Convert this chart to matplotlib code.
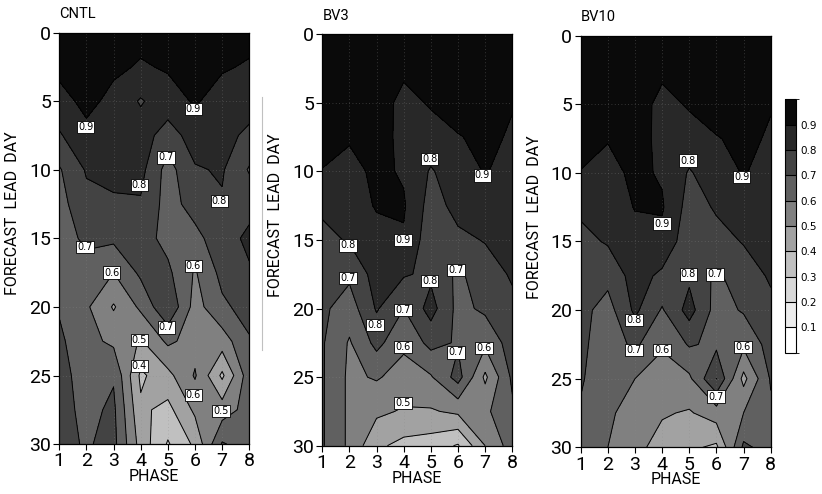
import numpy as np
import matplotlib
matplotlib.use('Agg')
import matplotlib.pyplot as plt
from matplotlib.colors import ListedColormap, BoundaryNorm
from matplotlib.lines import Line2D

# ---------------- data ----------------
phases = [1, 2, 3, 4, 5, 6, 7, 8]
lead_days = [0, 2.5, 5, 7.5, 10, 12.5, 15, 17.5, 20, 22.5, 25, 27.5, 30]

# rows = lead day, columns = phase 1..8
cntl = [
    [0.97, 0.98, 0.96, 0.93, 0.95, 0.98, 0.96, 0.93],
    [0.93, 0.95, 0.92, 0.89, 0.91, 0.94, 0.91, 0.89],
    [0.86, 0.93, 0.87, 0.79, 0.86, 0.91, 0.86, 0.84],
    [0.79, 0.87, 0.85, 0.85, 0.75, 0.85, 0.83, 0.78],
    [0.69, 0.81, 0.82, 0.83, 0.66, 0.79, 0.81, 0.69],
    [0.665, 0.77, 0.79, 0.79, 0.66, 0.74, 0.79, 0.77],
    [0.655, 0.72, 0.72, 0.74, 0.67, 0.67, 0.76, 0.82],
    [0.665, 0.66, 0.60, 0.72, 0.72, 0.59, 0.73, 0.79],
    [0.69, 0.615, 0.49, 0.62, 0.79, 0.56, 0.68, 0.74],
    [0.72, 0.63, 0.58, 0.49, 0.62, 0.56, 0.55, 0.69],
    [0.74, 0.65, 0.69, 0.38, 0.47, 0.61, 0.38, 0.66],
    [0.74, 0.67, 0.72, 0.42, 0.37, 0.52, 0.55, 0.64],
    [0.73, 0.69, 0.73, 0.46, 0.29, 0.42, 0.71, 0.65],
]

bv3 = [
    [0.97, 0.97, 0.97, 0.97, 0.97, 0.98, 0.97, 0.97],
    [0.96, 0.95, 0.96, 0.92, 0.95, 0.96, 0.96, 0.93],
    [0.94, 0.93, 0.95, 0.87, 0.91, 0.94, 0.94, 0.905],
    [0.92, 0.91, 0.93, 0.88, 0.86, 0.895, 0.92, 0.89],
    [0.898, 0.87, 0.92, 0.89, 0.79, 0.86, 0.905, 0.87],
    [0.82, 0.84, 0.91, 0.91, 0.76, 0.83, 0.86, 0.85],
    [0.77, 0.81, 0.86, 0.89, 0.74, 0.78, 0.805, 0.83],
    [0.75, 0.72, 0.84, 0.81, 0.78, 0.68, 0.76, 0.81],
    [0.72, 0.65, 0.81, 0.70, 0.84, 0.67, 0.72, 0.78],
    [0.71, 0.59, 0.73, 0.62, 0.73, 0.69, 0.62, 0.75],
    [0.71, 0.58, 0.61, 0.56, 0.59, 0.74, 0.48, 0.72],
    [0.71, 0.58, 0.52, 0.49, 0.49, 0.52, 0.58, 0.68],
    [0.71, 0.58, 0.42, 0.37, 0.35, 0.29, 0.50, 0.65],
]

bv10 = [
    [0.97, 0.97, 0.97, 0.97, 0.97, 0.98, 0.97, 0.97],
    [0.96, 0.95, 0.96, 0.92, 0.95, 0.96, 0.96, 0.93],
    [0.94, 0.93, 0.95, 0.87, 0.91, 0.94, 0.94, 0.905],
    [0.92, 0.905, 0.93, 0.88, 0.86, 0.895, 0.92, 0.89],
    [0.898, 0.87, 0.92, 0.89, 0.79, 0.86, 0.905, 0.87],
    [0.82, 0.84, 0.905, 0.91, 0.76, 0.81, 0.86, 0.85],
    [0.77, 0.81, 0.86, 0.87, 0.74, 0.77, 0.805, 0.83],
    [0.74, 0.73, 0.84, 0.78, 0.78, 0.68, 0.76, 0.81],
    [0.73, 0.66, 0.82, 0.69, 0.84, 0.66, 0.71, 0.78],
    [0.72, 0.65, 0.72, 0.61, 0.71, 0.68, 0.62, 0.74],
    [0.71, 0.64, 0.60, 0.56, 0.58, 0.801, 0.47, 0.71],
    [0.69, 0.62, 0.55, 0.51, 0.49, 0.55, 0.60, 0.68],
    [0.67, 0.60, 0.53, 0.46, 0.42, 0.38, 0.72, 0.66],
]

fill_levels = [0.0, 0.1, 0.2, 0.3, 0.4, 0.5, 0.6, 0.7, 0.8, 0.9, 1.0]
line_levels = [0.1, 0.2, 0.3, 0.4, 0.5, 0.6, 0.7, 0.8, 0.9]
band_colors = ['#ffffff', '#ececec', '#d8d8d8', '#c0c0c0', '#a2a2a2',
               '#808080', '#606060', '#434343', '#282828', '#0a0a0a']

# contour labels: (level, phase, day)
cntl_labels = [(0.9, 1.97, 6.9), (0.9, 5.94, 5.6), (0.8, 3.95, 11.1), (0.8, 6.9, 12.3),
               (0.7, 4.93, 9.1), (0.7, 1.95, 15.65), (0.7, 4.95, 21.5), (0.6, 2.93, 17.5),
               (0.6, 5.94, 17.0), (0.6, 5.94, 26.4), (0.5, 3.95, 22.4), (0.5, 6.95, 27.6),
               (0.4, 3.95, 24.3)]
bv3_labels = [(0.8, 4.95, 9.1), (0.9, 6.9, 10.3), (0.8, 1.95, 15.4), (0.9, 3.97, 15.0),
              (0.7, 1.95, 17.8), (0.8, 4.95, 18.0), (0.7, 5.93, 17.2), (0.7, 3.97, 20.1),
              (0.8, 2.95, 21.2), (0.6, 3.98, 22.8), (0.7, 5.93, 23.2), (0.6, 6.95, 22.9),
              (0.5, 3.97, 26.9)]
bv10_labels = [(0.8, 4.96, 9.1), (0.9, 6.93, 10.3), (0.9, 3.99, 13.7), (0.8, 4.97, 17.4),
               (0.7, 5.95, 17.4), (0.8, 2.97, 20.7), (0.7, 2.97, 22.9), (0.6, 3.99, 22.9),
               (0.6, 6.97, 22.7), (0.7, 5.99, 26.3)]

panels = [('CNTL', cntl, cntl_labels, [59.3, 32.5]),
          ('BV3', bv3, bv3_labels, [322.3, 34.1]),
          ('BV10', bv10, bv10_labels, [580.7, 35.7])]

plt.rcParams['font.family'] = ['Roboto', 'DejaVu Sans']

# ---------------- figure ----------------
W, H = 822, 494
fig = plt.figure(figsize=(W / 100, H / 100), dpi=100)
cmap = ListedColormap(band_colors)
norm = BoundaryNorm(fill_levels, cmap.N)
P, D = np.meshgrid(phases, lead_days)

box = dict(boxstyle='square,pad=0.12', facecolor='white', edgecolor='black', linewidth=0.6)
cf = None
for title, z, labels, (lx, ty) in panels:
    ax = fig.add_axes([lx / W, 1 - (ty + 411.6) / H, 190 / W, 411.6 / H])
    z = np.array(z)
    cf = ax.contourf(P, D, z, levels=fill_levels, cmap=cmap, norm=norm)
    ax.contour(P, D, z, levels=line_levels, colors='black', linewidths=0.7)
    for lev, x, y in labels:
        ax.text(x, y, '%.1f' % lev, ha='center', va='center', fontsize=7,
                family='DejaVu Sans', bbox=box, zorder=5)
    ax.set_xlim(1, 8)
    ax.set_ylim(30, 0)
    ax.set_xticks(phases)
    ax.set_yticks([0, 5, 10, 15, 20, 25, 30])
    ax.grid(True, color='#8a8a8a', linestyle=(0, (1, 3)), linewidth=0.6, alpha=0.45)
    ax.tick_params(direction='out', length=4, width=0.8, labelsize=14, pad=2)
    for s in ax.spines.values():
        s.set_linewidth(0.9)
    ax.set_xlabel('PHASE', fontsize=11.5, labelpad=-1)
    ax.set_ylabel('FORECAST  LEAD  DAY', fontsize=11.5)
    ax.yaxis.set_label_coords(-0.205, 0.56)
    ax.text(0.0, 1.045, title, transform=ax.transAxes, fontsize=10.5,
            ha='left', va='center')

cax = fig.add_axes([785 / W, 1 - 352.7 / H, 11 / W, 253.4 / H])
cb = fig.colorbar(cf, cax=cax, ticks=line_levels, drawedges=True)
cb.outline.set_linewidth(0.8)
cb.dividers.set_linewidth(0.8)
cax.tick_params(length=0, labelsize=7.5, pad=3)
cb.set_ticklabels(['%.1f' % v for v in line_levels])
for lab in cax.get_yticklabels():
    lab.set_family('DejaVu Sans')

# thin stray line seen in the original figure
fig.add_artist(Line2D([262 / W, 262 / W], [1 - 97 / H, 1 - 350 / H],
                      color='#c0c0c0', linewidth=0.8))

fig.savefig('out.png', dpi=100)
